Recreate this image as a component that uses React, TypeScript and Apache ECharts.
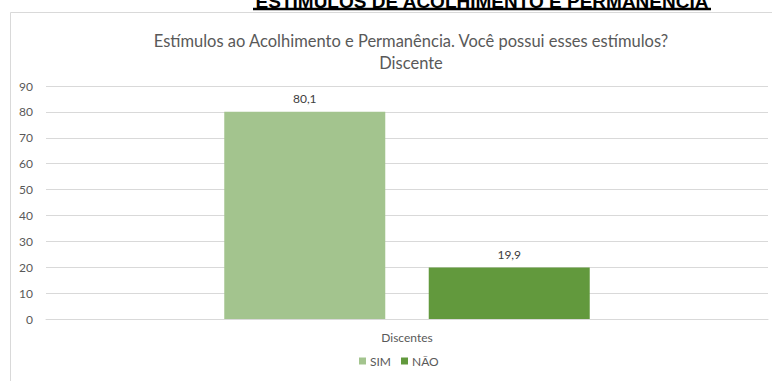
import React, { useEffect, useRef } from "react";
import * as echarts from "echarts";

const categories = ["Discentes"];
const seriesNames = ["SIM", "NÃO"];
const simValues = [80.1];
const naoValues = [19.9];
const yTicks = { min: 0, max: 90, interval: 10 };
const headerText = "ESTÍMULOS DE ACOLHIMENTO E PERMANÊNCIA";
const chartTitle = "Estímulos ao Acolhimento e Permanência. Você possui esses estímulos?\nDiscente";

const FONT = "Lato, 'Open Sans', sans-serif";

export default function App() {
  const ref = useRef<HTMLDivElement>(null);
  useEffect(() => {
    if (!ref.current) return;
    const chart = echarts.init(ref.current, null, { renderer: "svg" });
    const fmt = (p: any) => String(p.value).replace(".", ",");
    chart.setOption({
      animation: false,
      backgroundColor: "#ffffff",
      textStyle: { fontFamily: FONT },
      title: {
        text: chartTitle,
        left: 406,
        textAlign: "center",
        top: 25,
        textStyle: {
          fontFamily: FONT,
          fontSize: 16.5,
          fontWeight: "normal",
          color: "#595959",
          lineHeight: 22,
        },
      },
      graphic: [
        {
          type: "rect",
          shape: { x: 10.5, y: 12.5, width: 800, height: 400 },
          style: { fill: "none", stroke: "#D9D9D9", lineWidth: 1 },
          silent: true,
          z: -1,
        },
        {
          type: "text",
          x: 482,
          y: 11,
          style: {
            text: headerText,
            font: "bold 19px 'Liberation Sans', Arial, sans-serif",
            fill: "#000000",
            align: "center",
            verticalAlign: "bottom",
          },
        },
        {
          type: "line",
          shape: { x1: 253, y1: 9, x2: 711, y2: 9 },
          style: { stroke: "#000000", lineWidth: 2.5 },
        },
      ],
      legend: {
        data: seriesNames,
        bottom: 9,
        left: 354,
        icon: "rect",
        itemWidth: 7,
        itemHeight: 7,
        itemGap: 10,
        textStyle: { fontFamily: FONT, fontSize: 12, color: "#595959", padding: [0, 0, 0, -1] },
      },
      grid: { left: 46, right: 4, top: 86, bottom: 62, containLabel: false },
      xAxis: {
        type: "category",
        data: categories,
        axisLine: { show: true, lineStyle: { color: "#D9D9D9" } },
        axisTick: { show: false },
        axisLabel: { fontFamily: FONT, fontSize: 12, color: "#595959", margin: 12 },
      },
      yAxis: {
        type: "value",
        min: yTicks.min,
        max: yTicks.max,
        interval: yTicks.interval,
        axisLine: { show: false },
        axisTick: { show: false },
        splitLine: { lineStyle: { color: "#D9D9D9" } },
        axisLabel: { fontFamily: FONT, fontSize: 12, color: "#595959", margin: 13 },
      },
      series: [
        {
          name: seriesNames[0],
          type: "bar",
          data: simValues,
          barWidth: 161,
          barGap: "27%",
          itemStyle: { color: "#A3C48E" },
          label: { show: true, position: "top", distance: 7, formatter: fmt, fontFamily: FONT, fontSize: 12, color: "#404040" },
        },
        {
          name: seriesNames[1],
          type: "bar",
          data: naoValues,
          barWidth: 161,
          itemStyle: { color: "#62993D" },
          label: { show: true, position: "top", distance: 7, formatter: fmt, fontFamily: FONT, fontSize: 12, color: "#404040" },
        },
      ],
    });
    return () => chart.dispose();
  }, []);
  return (
    <div
      ref={ref}
      style={{ position: "fixed", left: 0, top: 0, width: 772, height: 381, background: "#fff" }}
    />
  );
}
